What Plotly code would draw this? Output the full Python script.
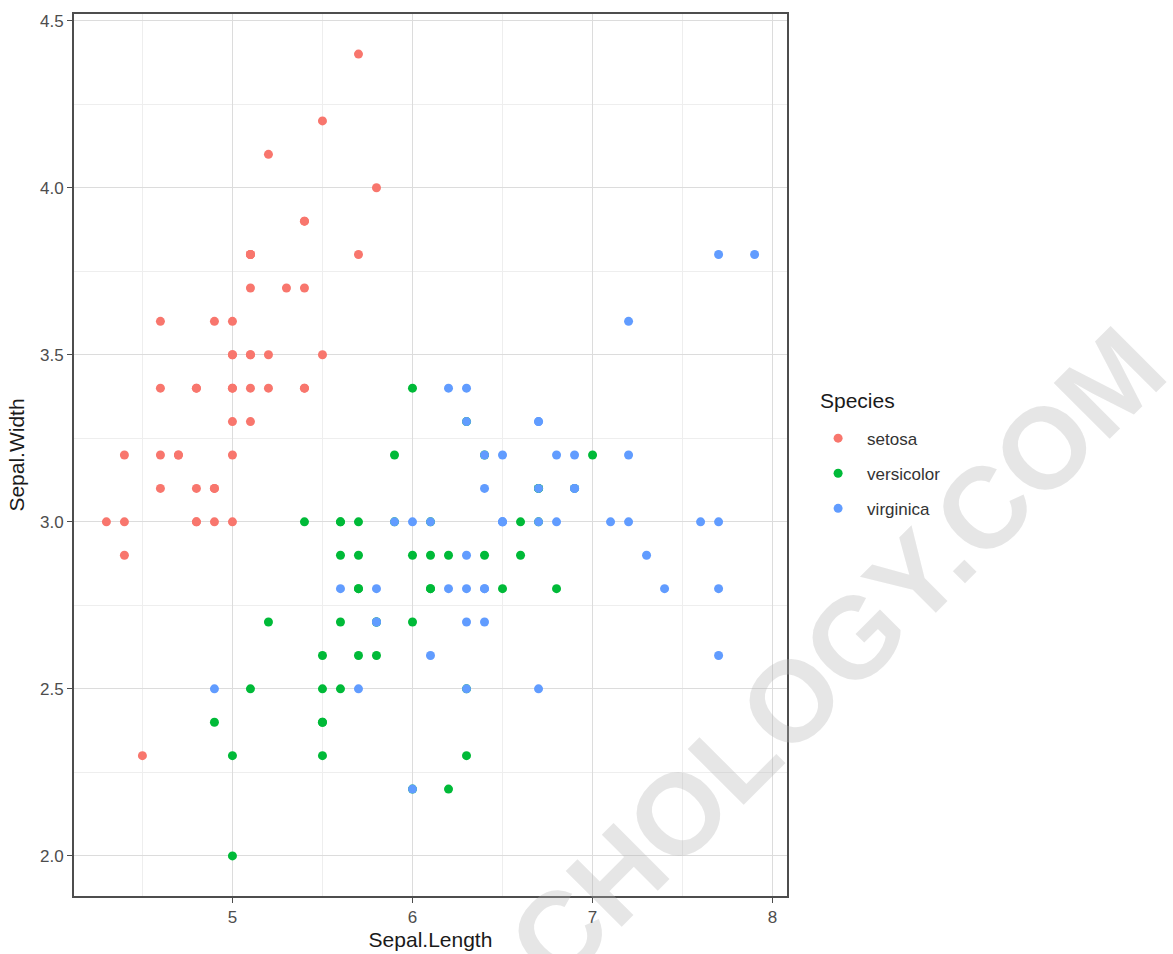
import plotly.graph_objects as go

# Iris measurements: sepal length / width by species
species = ["setosa", "versicolor", "virginica"]

setosa_length = [5.1, 4.9, 4.7, 4.6, 5.0, 5.4, 4.6, 5.0, 4.4, 4.9, 5.4, 4.8, 4.8, 4.3, 5.8, 5.7, 5.4, 5.1, 5.7, 5.1,
                 5.4, 5.1, 4.6, 5.1, 4.8, 5.0, 5.0, 5.2, 5.2, 4.7, 4.8, 5.4, 5.2, 5.5, 4.9, 5.0, 5.5, 4.9, 4.4, 5.1,
                 5.0, 4.5, 4.4, 5.0, 5.1, 4.8, 5.1, 4.6, 5.3, 5.0]
setosa_width = [3.5, 3.0, 3.2, 3.1, 3.6, 3.9, 3.4, 3.4, 2.9, 3.1, 3.7, 3.4, 3.0, 3.0, 4.0, 4.4, 3.9, 3.5, 3.8, 3.8,
                3.4, 3.7, 3.6, 3.3, 3.4, 3.0, 3.4, 3.5, 3.4, 3.2, 3.1, 3.4, 4.1, 4.2, 3.1, 3.2, 3.5, 3.6, 3.0, 3.4,
                3.5, 2.3, 3.2, 3.5, 3.8, 3.0, 3.8, 3.2, 3.7, 3.3]

versicolor_length = [7.0, 6.4, 6.9, 5.5, 6.5, 5.7, 6.3, 4.9, 6.6, 5.2, 5.0, 5.9, 6.0, 6.1, 5.6, 6.7, 5.6, 5.8, 6.2, 5.6,
                     5.9, 6.1, 6.3, 6.1, 6.4, 6.6, 6.8, 6.7, 6.0, 5.7, 5.5, 5.5, 5.8, 6.0, 5.4, 6.0, 6.7, 6.3, 5.6, 5.5,
                     5.5, 6.1, 5.8, 5.0, 5.6, 5.7, 5.7, 6.2, 5.1, 5.7]
versicolor_width = [3.2, 3.2, 3.1, 2.3, 2.8, 2.8, 3.3, 2.4, 2.9, 2.7, 2.0, 3.0, 2.2, 2.9, 2.9, 3.1, 3.0, 2.7, 2.2, 2.5,
                    3.2, 2.8, 2.5, 2.8, 2.9, 3.0, 2.8, 3.0, 2.9, 2.6, 2.4, 2.4, 2.7, 2.7, 3.0, 3.4, 3.1, 2.3, 3.0, 2.5,
                    2.6, 3.0, 2.6, 2.3, 2.7, 3.0, 2.9, 2.9, 2.5, 2.8]

virginica_length = [6.3, 5.8, 7.1, 6.3, 6.5, 7.6, 4.9, 7.3, 6.7, 7.2, 6.5, 6.4, 6.8, 5.7, 5.8, 6.4, 6.5, 7.7, 7.7, 6.0,
                    6.9, 5.6, 7.7, 6.3, 6.7, 7.2, 6.2, 6.1, 6.4, 7.2, 7.4, 7.9, 6.4, 6.3, 6.1, 7.7, 6.3, 6.4, 6.0, 6.9,
                    6.7, 6.9, 5.8, 6.8, 6.7, 6.7, 6.3, 6.5, 6.2, 5.9]
virginica_width = [3.3, 2.7, 3.0, 2.9, 3.0, 3.0, 2.5, 2.9, 2.5, 3.6, 3.2, 2.7, 3.0, 2.5, 2.8, 3.2, 3.0, 3.8, 2.6, 2.2,
                   3.2, 2.8, 2.8, 2.7, 3.3, 3.2, 2.8, 3.0, 2.8, 3.0, 2.8, 3.8, 2.8, 2.8, 2.6, 3.0, 3.4, 3.1, 3.0, 3.1,
                   3.1, 3.1, 2.7, 3.2, 3.3, 3.0, 2.5, 3.0, 3.4, 3.0]

x_ticks = [5, 6, 7, 8]
y_ticks = [2.0, 2.5, 3.0, 3.5, 4.0, 4.5]
y_tick_text = ["2.0", "2.5", "3.0", "3.5", "4.0", "4.5"]

series = {
    "setosa": (setosa_length, setosa_width, "#F8766D"),
    "versicolor": (versicolor_length, versicolor_width, "#00BA38"),
    "virginica": (virginica_length, virginica_width, "#619CFF"),
}

FONT = "Liberation Sans, Arial, Helvetica, sans-serif"

fig = go.Figure()
for name in species:
    xs, ys, color = series[name]
    fig.add_trace(go.Scatter(
        x=xs, y=ys, mode="markers", name=name, legendgroup=name,
        marker=dict(color=color, size=9, line=dict(width=0)),
    ))

# light diagonal site mark over the panel
fig.add_annotation(
    text="<b>CHOLOGY.COM</b>", xref="paper", yref="paper",
    x=1.070, y=0.273, xanchor="center", yanchor="middle",
    textangle=-45, showarrow=False,
    font=dict(family=FONT, size=115, color="rgba(180,180,180,0.33)"),
)

# legend heading, set apart from the legend entries
fig.add_annotation(
    text="Species", xref="paper", yref="paper",
    x=1.043, y=0.5616, xanchor="left", yanchor="middle",
    showarrow=False,
    font=dict(family=FONT, size=21, color="#1a1a1a"),
)

axis_common = dict(
    showline=True, mirror=True, linecolor="#4d4d4d", linewidth=2,
    ticks="outside", ticklen=5, tickwidth=1, tickcolor="#4d4d4d",
    tickfont=dict(family=FONT, size=17, color="#4d4d4d"),
    showgrid=True, gridcolor="#dcdcdc", gridwidth=1,
    zeroline=False, automargin=False,
)

fig.update_xaxes(
    **axis_common, range=[4.12, 8.08], tickvals=x_ticks,
    minor=dict(dtick=0.5, tick0=4.5, showgrid=True, gridcolor="#eeeeee", gridwidth=1, ticks=""),
    title=dict(text="Sepal.Length", font=dict(family=FONT, size=21, color="#1a1a1a"), standoff=6),
)
fig.update_yaxes(
    **axis_common, range=[1.88, 4.52], tickvals=y_ticks, ticktext=y_tick_text,
    minor=dict(dtick=0.25, tick0=2.25, showgrid=True, gridcolor="#eeeeee", gridwidth=1, ticks=""),
    title=dict(text="Sepal.Width", font=dict(family=FONT, size=21, color="#1a1a1a"), standoff=10),
)

fig.update_layout(
    width=1173, height=954,
    margin=dict(l=74, r=386, t=14, b=58, autoexpand=False),
    paper_bgcolor="white", plot_bgcolor="white",
    font=dict(family=FONT, color="#1a1a1a"),
    legend=dict(
        font=dict(family=FONT, size=17, color="#333333"),
        x=1.031, y=0.539, xanchor="left", yanchor="top",
        tracegroupgap=10, itemwidth=48,
        bgcolor="rgba(0,0,0,0)",
    ),
    showlegend=True,
)

fig.write_html("out.html")
